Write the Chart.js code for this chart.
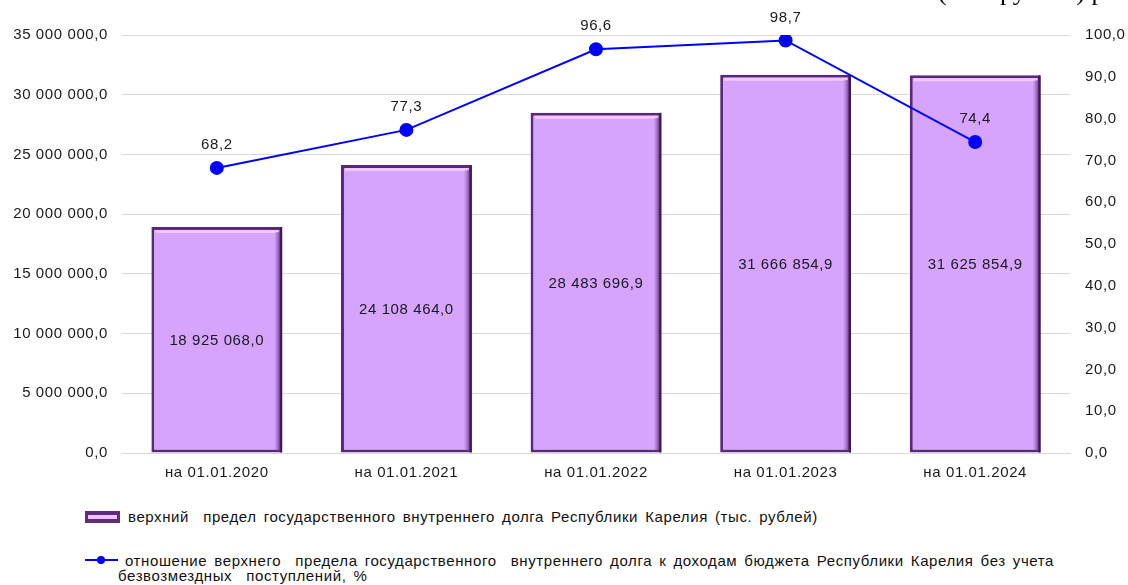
<!DOCTYPE html>
<html>
<head>
<meta charset="utf-8">
<script src="https://cdn.jsdelivr.net/npm/chart.js@4.4.1/dist/chart.umd.min.js"></script>
<style>
  html, body { margin: 0; padding: 0; background: #fff; }
  body { width: 1128px; height: 585px; position: relative; overflow: hidden; font-family: "Liberation Sans", Arial, sans-serif; }
  #wrap { position: absolute; left: 0; top: 0; width: 1128px; height: 488px; }
  #unit { position: absolute; left: 938px; top: -21px; font: 26px/26px "Liberation Serif", serif; color: #000; white-space: nowrap; }
  .lg { position: absolute; font-size: 15px; line-height: 16px; letter-spacing: 0.6px; color: #111; white-space: nowrap; word-spacing: 2.3px; }
  .sw { position: absolute; }
</style>
</head>
<body>
<div id="wrap"><canvas id="myChart"></canvas></div>
<div id="unit">(тыс. рублей) р</div>

<div class="sw" style="left:85px;top:511px;width:35px;height:12px;background:#5e2b7e;"></div>
<div class="sw" style="left:88px;top:515px;width:29px;height:4px;background:#f0c2ff;"></div>
<div class="lg" style="left:128px;top:509px;">верхний&nbsp; предел государственного внутреннего долга Республики Карелия (тыс. рублей)</div>

<div class="sw" style="left:85px;top:559px;width:33px;height:2px;background:#0000ff;"></div>
<div class="sw" style="left:97px;top:556px;width:8px;height:8px;border-radius:50%;background:#0000ff;"></div>
<div class="lg" style="left:125px;top:553px;">отношение верхнего&nbsp; предела государственного&nbsp; внутреннего долга к доходам бюджета Республики Карелия без учета</div>
<div class="lg" style="left:118px;top:568px;">безвозмездных&nbsp; поступлений, %</div>

<script>
  const categories = ['на 01.01.2020', 'на 01.01.2021', 'на 01.01.2022', 'на 01.01.2023', 'на 01.01.2024'];
  const debtValues = [18925068.0, 24108464.0, 28483696.9, 31666854.9, 31625854.9];
  const ratioValues = [68.2, 77.3, 96.6, 98.7, 74.4];

  const FONT = '"Liberation Sans", Arial, sans-serif';

  // формат: пробел между разрядами, запятая, один знак после запятой
  function fmt(v) {
    const parts = Number(v).toFixed(1).split('.');
    return parts[0].replace(/\B(?=(\d{3})+(?!\d))/g, ' ') + ',' + parts[1];
  }

  // разрядка текста как в оригинале
  const spacingPlugin = {
    id: 'spacing',
    beforeLayout(chart) { chart.ctx.letterSpacing = '0.6px'; },
    beforeDraw(chart) { chart.ctx.letterSpacing = '0.6px'; },
  };

  // объём столбцов: светлая полоса сверху и тень справа
  const bevelPlugin = {
    id: 'bevel',
    afterDatasetDraw(chart, args) {
      if (args.index !== 0) return;
      const ctx = chart.ctx;
      ctx.save();
      args.meta.data.forEach((bar) => {
        const l = bar.x - bar.width / 2;
        const r = bar.x + bar.width / 2;
        const t = bar.y;
        const b = bar.base;
        ctx.fillStyle = '#f3c6ff';
        ctx.fillRect(l + 4, t + 3, bar.width - 8, 3);
        const g = ctx.createLinearGradient(r - 8, 0, r - 2, 0);
        g.addColorStop(0, 'rgba(140,80,170,0)');
        g.addColorStop(1, 'rgba(110,55,140,0.9)');
        ctx.fillStyle = g;
        ctx.fillRect(r - 8, t + 5, 6, b - t - 7);
        ctx.fillStyle = '#3d1a52';
        ctx.fillRect(r - 2, t, 2, b - t);
      });
      ctx.restore();
    }
  };

  const labelsPlugin = {
    id: 'valueLabels',
    afterDatasetsDraw(chart) {
      const ctx = chart.ctx;
      ctx.save();
      ctx.font = '15px ' + FONT;
      ctx.fillStyle = '#1a1a1a';
      ctx.textAlign = 'center';
      ctx.textBaseline = 'middle';
      chart.getDatasetMeta(0).data.forEach((bar, i) => {
        ctx.fillText(fmt(debtValues[i]), bar.x, (bar.y + bar.base) / 2 + 1);
      });
      chart.getDatasetMeta(1).data.forEach((pt, i) => {
        ctx.fillText(fmt(ratioValues[i]), pt.x, pt.y - 23);
      });
      ctx.restore();
    }
  };

  const ctx = document.getElementById('myChart').getContext('2d');
  const myChart = new Chart(ctx, {
    type: 'bar',
    data: {
      labels: categories,
      datasets: [
        {
          type: 'bar',
          label: 'верхний предел государственного внутреннего долга Республики Карелия (тыс. рублей)',
          data: debtValues,
          yAxisID: 'y',
          backgroundColor: '#d6a4fd',
          borderColor: '#5a2878',
          borderWidth: 3,
          borderSkipped: false,
          barPercentage: 0.69,
          categoryPercentage: 1,
          order: 1,
        },
        {
          type: 'line',
          label: 'отношение верхнего предела государственного внутреннего долга к доходам бюджета Республики Карелия без учета безвозмездных поступлений, %',
          data: ratioValues,
          yAxisID: 'y1',
          borderColor: '#0000ff',
          backgroundColor: '#0000ff',
          borderWidth: 2,
          pointRadius: 6,
          pointHoverRadius: 6,
          tension: 0,
          order: 0,
        },
      ],
    },
    options: {
      responsive: true,
      maintainAspectRatio: false,
      animation: false,
      layout: { padding: { top: 35, left: 0, right: 0, bottom: 0 } },
      plugins: { legend: { display: false }, tooltip: { enabled: false } },
      scales: {
        x: {
          grid: { display: false },
          border: { color: '#d9d9d9', width: 1 },
          ticks: { color: '#1a1a1a', font: { size: 15, family: FONT }, padding: 3 },
          afterFit(scale) { scale.height = 35; },
        },
        y: {
          position: 'left',
          min: 0,
          max: 35000000,
          grid: { color: '#d9d9d9', drawTicks: false },
          border: { display: false },
          ticks: {
            stepSize: 5000000,
            color: '#1a1a1a',
            padding: 14,
            font: { size: 15, family: FONT },
            callback: (v) => fmt(v),
          },
          afterFit(scale) { scale.width = 122; },
        },
        y1: {
          position: 'right',
          min: 0,
          max: 100,
          grid: { display: false, drawTicks: false },
          border: { display: false },
          ticks: {
            stepSize: 10,
            color: '#1a1a1a',
            padding: 15,
            font: { size: 15, family: FONT },
            callback: (v) => fmt(v),
          },
          afterFit(scale) { scale.width = 58; },
        },
      },
    },
    plugins: [spacingPlugin, bevelPlugin, labelsPlugin],
  });
</script>
</body>
</html>
